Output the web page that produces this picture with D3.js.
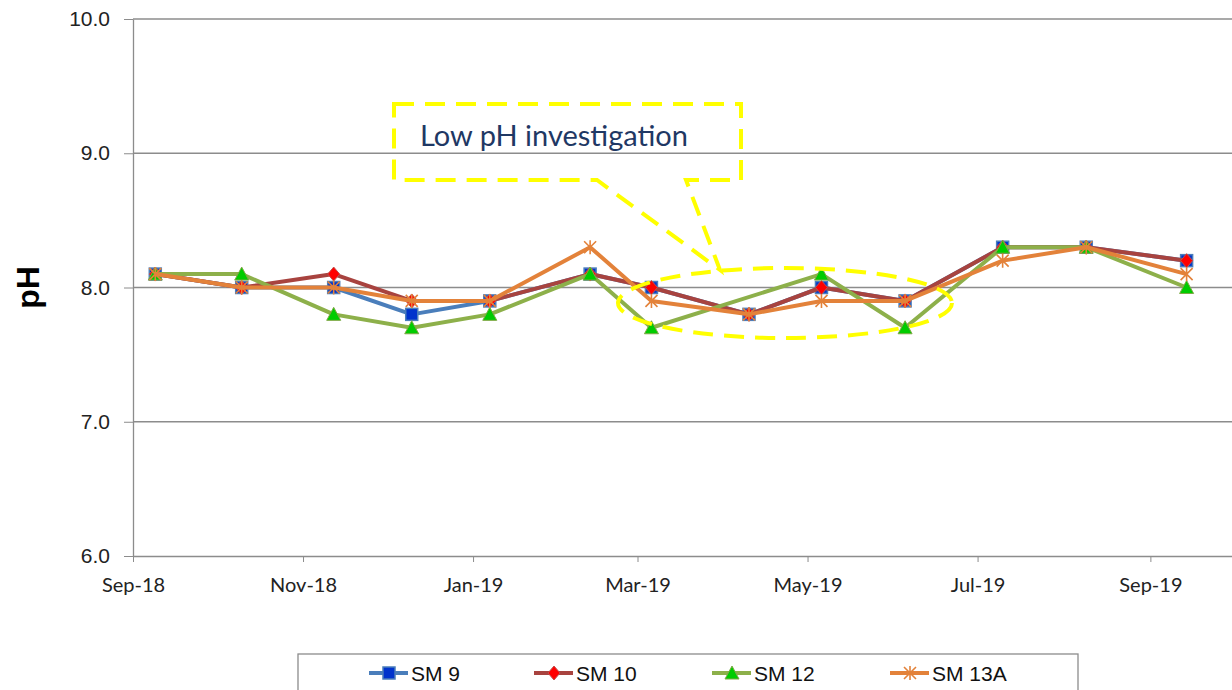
<!DOCTYPE html>
<html>
<head>
<meta charset="utf-8">
<script src="https://cdn.jsdelivr.net/npm/d3@7"></script>
<style>
  body { margin: 0; background: #fff; }
  svg { display: block; }
</style>
</head>
<body>
<div id="chart"></div>
<script>
// sample dates and pH readings per monitoring point
const dates = ['2018-09-09','2018-10-10','2018-11-12','2018-12-10','2019-01-07','2019-02-12',
               '2019-03-06','2019-04-10','2019-05-06','2019-06-05','2019-07-10','2019-08-09','2019-09-14'];
const sm9   = [8.1, 8.0, 8.0, 7.8, 7.9, 8.1, 8.0, 7.8, 8.0, 7.9, 8.3, 8.3, 8.2];
const sm10  = [8.1, 8.0, 8.1, 7.9, 7.9, 8.1, 8.0, 7.8, 8.0, 7.9, 8.3, 8.3, 8.2];
const sm12  = [8.1, 8.1, 7.8, 7.7, 7.8, 8.1, 7.7, null, 8.1, 7.7, 8.3, 8.3, 8.0];
const sm13a = [8.1, 8.0, 8.0, 7.9, 7.9, 8.3, 7.9, 7.8, 7.9, 7.9, 8.2, 8.3, 8.1];
const seriesNames = ['SM 9', 'SM 10', 'SM 12', 'SM 13A'];
const yTicks = [6, 7, 8, 9, 10];
const noteText = 'Low pH investigation';

const W = 1232, H = 690;
const margin = { top: 19, left: 133 };
const plotW = 1101, plotH = 537;

const parse = d3.timeParse('%Y-%m-%d');
const x = d3.scaleTime()
  .domain([new Date(2018, 8, 1), new Date(2019, 9, 1)])
  .range([0, plotW]);
const y = d3.scaleLinear().domain([6, 10]).range([plotH, 0]);

const styles = [
  { line: '#4A7EBB', fill: '#0033CC', stroke: '#4A7EBB', shape: 'square' },
  { line: '#A8433F', fill: '#FF0000', stroke: '#C0504D', shape: 'diamond' },
  { line: '#8DB04A', fill: '#00CC00', stroke: '#7FA845', shape: 'triangle' },
  { line: '#E3823A', fill: 'none',    stroke: '#E3823A', shape: 'star' }
];
const seriesData = [sm9, sm10, sm12, sm13a].map((vals, i) => ({
  name: seriesNames[i],
  style: styles[i],
  pts: vals.map((v, j) => ({ date: parse(dates[j]), v })).filter(d => d.v != null)
}));

const svg = d3.select('#chart').append('svg')
  .attr('width', W).attr('height', H);
const g = svg.append('g').attr('transform', `translate(${margin.left},${margin.top})`);

// gridlines
g.append('g').selectAll('line')
  .data(yTicks.filter(t => t > 6))
  .join('line')
    .attr('x1', 0).attr('x2', plotW)
    .attr('y1', d => y(d)).attr('y2', d => y(d))
    .attr('stroke', '#8c8c8c').attr('stroke-width', 1.3);

// axes
const yAxis = g.append('g')
  .call(d3.axisLeft(y).tickValues(yTicks).tickFormat(d3.format('.1f')).tickSize(9).tickSizeOuter(0));
yAxis.select('.domain').attr('stroke', '#8c8c8c').attr('stroke-width', 1.3);
yAxis.selectAll('.tick line').attr('stroke', '#8c8c8c');
yAxis.selectAll('text')
  .attr('x', -23)
  .style('font-family', 'Liberation Sans, Arial, sans-serif')
  .style('font-size', '21px').attr('fill', '#222');

const xAxis = g.append('g')
  .attr('transform', `translate(0,${plotH})`)
  .call(d3.axisBottom(x).ticks(d3.timeMonth.every(2)).tickFormat(d3.timeFormat('%b-%y')).tickSize(6).tickSizeOuter(0));
xAxis.select('.domain').attr('stroke', '#8c8c8c').attr('stroke-width', 1.3);
xAxis.selectAll('.tick line').attr('stroke', '#8c8c8c');
xAxis.selectAll('text')
  .attr('y', 22)
  .style('font-family', 'Lato, Open Sans, sans-serif')
  .style('font-size', '20px').attr('fill', '#222');

// y title
svg.append('text')
  .attr('transform', `translate(39,${margin.top + y(8)}) rotate(-90)`)
  .attr('text-anchor', 'middle')
  .style('font-family', 'Liberation Sans, Arial, sans-serif')
  .style('font-size', '32px').style('font-weight', 'bold')
  .text('pH');

function marker(sel, s, size) {
  const r = size / 2;
  if (s.shape === 'square') {
    sel.append('rect').attr('x', -r).attr('y', -r).attr('width', size).attr('height', size)
      .attr('fill', s.fill).attr('stroke', s.stroke).attr('stroke-width', 1.5);
  } else if (s.shape === 'diamond') {
    sel.append('path').attr('d', `M0,${-r - 1}L${r},0L0,${r + 1}L${-r},0Z`)
      .attr('fill', s.fill).attr('stroke', s.stroke).attr('stroke-width', 1);
  } else if (s.shape === 'triangle') {
    sel.append('path').attr('d', `M0,${-r - 1}L${r + 1},${r}L${-r - 1},${r}Z`)
      .attr('fill', s.fill).attr('stroke', s.stroke).attr('stroke-width', 1);
  } else {
    sel.append('path')
      .attr('d', `M${-r},${-r}L${r},${r}M${-r},${r}L${r},${-r}M0,${-r - 1}L0,${r + 1}`)
      .attr('stroke', s.stroke).attr('stroke-width', 1.6).attr('fill', 'none');
  }
}

const line = d3.line().x(d => x(d.date)).y(d => y(d.v));

seriesData.forEach(sr => {
  const sg = g.append('g');
  sg.append('path').datum(sr.pts)
    .attr('d', line)
    .attr('fill', 'none')
    .attr('stroke', sr.style.line)
    .attr('stroke-width', 4)
    .attr('stroke-linejoin', 'round');
  sg.selectAll('g.pt').data(sr.pts).join('g')
    .attr('class', 'pt')
    .attr('transform', d => `translate(${x(d.date)},${y(d.v)})`)
    .each(function () { marker(d3.select(this), sr.style, 12); });
});

// annotation: dashed callout and ellipse
const yellow = '#FFFF00';
const note = svg.append('g').attr('fill', 'none').attr('stroke', yellow)
  .attr('stroke-width', 4).attr('stroke-dasharray', '20,11');
note.append('path')
  .attr('d', 'M394,104 L741,104 L741,180 L686,180 L720,270 L597,180 L394,180 Z');
note.append('ellipse')
  .attr('cx', 785).attr('cy', 303).attr('rx', 167).attr('ry', 35);
svg.append('text')
  .attr('x', 554).attr('y', 146)
  .attr('text-anchor', 'middle')
  .attr('fill', '#1F3864')
  .style('font-family', 'Lato, Open Sans, sans-serif')
  .style('font-size', '29px')
  .text(noteText);

// legend
const leg = svg.append('g');
leg.append('rect').attr('x', 298).attr('y', 654).attr('width', 780).attr('height', 40)
  .attr('fill', '#fff').attr('stroke', '#8c8c8c').attr('stroke-width', 1.3);
const legX = [369, 534, 712, 890];
seriesData.forEach((sr, i) => {
  const lg = leg.append('g').attr('transform', `translate(${legX[i]},673)`);
  lg.append('line').attr('x1', 0).attr('x2', 39).attr('y1', 0).attr('y2', 0)
    .attr('stroke', sr.style.line).attr('stroke-width', 4);
  const mg = lg.append('g').attr('transform', 'translate(20,0)');
  marker(mg, sr.style, 12);
  lg.append('text').attr('x', 42).attr('y', 8)
    .style('font-family', 'Liberation Sans, Arial, sans-serif')
    .style('font-size', '21px').attr('fill', '#111')
    .text(sr.name);
});
</script>
</body>
</html>
